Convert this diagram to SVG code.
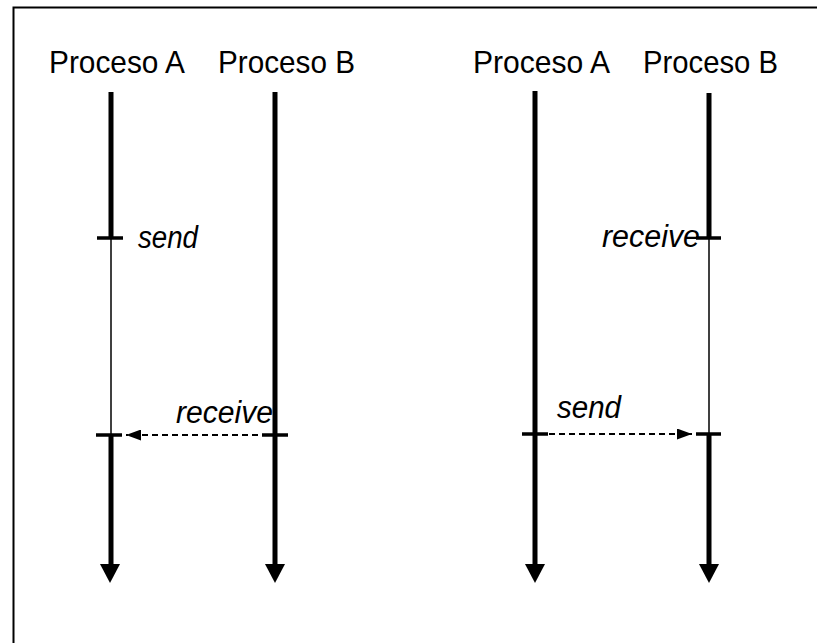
<svg xmlns="http://www.w3.org/2000/svg" width="817" height="643" viewBox="0 0 817 643">
  <style>
    .title { font-family: "Liberation Sans", Arial, sans-serif; font-size: 32px; fill: #000; }
    .lbl { font-family: "Liberation Sans", Arial, sans-serif; font-size: 31px; font-style: italic; fill: #000; }
    .thick { stroke: #000; stroke-width: 5; fill: none; }
    .thin { stroke: #000; stroke-width: 1.5; fill: none; }
    .tick { stroke: #000; stroke-width: 3.5; fill: none; }
    .dash { stroke: #000; stroke-width: 1.8; stroke-dasharray: 6 4; fill: none; }
    .head { fill: #000; }
  </style>
  <defs>
    <marker id="open" markerWidth="16" markerHeight="11" refX="15" refY="5.5" orient="auto" markerUnits="userSpaceOnUse">
      <path d="M0,0 L15,5.5 L0,11 Z" fill="#000"/>
    </marker>
  </defs>
  <rect x="0" y="0" width="817" height="643" fill="#fff"/>
  <rect x="13.5" y="7.5" width="820" height="660" fill="none" stroke="#000" stroke-width="2"/>

  <g id="left-procA">
    <text class="title" x="49" y="73" textLength="136" lengthAdjust="spacingAndGlyphs">Proceso A</text>
    <line class="thick" x1="111" y1="92" x2="111" y2="238"/>
    <line class="thin" x1="111" y1="238" x2="111" y2="435"/>
    <line class="thick" x1="111" y1="435" x2="111" y2="566"/>
    <line class="tick" x1="97" y1="238" x2="123" y2="238"/>
    <line class="tick" x1="96" y1="435" x2="122" y2="435"/>
    <path class="head" d="M100,564 L120,564 L110,583 Z"/>
    <text class="lbl" x="138" y="248" textLength="60" lengthAdjust="spacingAndGlyphs">send</text>
  </g>

  <g id="left-procB">
    <text class="title" x="218" y="73" textLength="137" lengthAdjust="spacingAndGlyphs">Proceso B</text>
    <line class="thick" x1="275" y1="92" x2="275" y2="566"/>
    <line class="tick" x1="262" y1="435" x2="288" y2="435"/>
    <path class="head" d="M265,564 L285,564 L275,583 Z"/>
    <text class="lbl" x="176" y="423" textLength="97" lengthAdjust="spacingAndGlyphs">receive</text>
  </g>

  <g id="right-procA">
    <text class="title" x="473" y="73" textLength="137" lengthAdjust="spacingAndGlyphs">Proceso A</text>
    <line class="thick" x1="535" y1="91" x2="535" y2="566"/>
    <line class="tick" x1="522" y1="434" x2="548" y2="434"/>
    <path class="head" d="M525,564 L545,564 L535,583 Z"/>
    <text class="lbl" x="557" y="418" textLength="64" lengthAdjust="spacingAndGlyphs">send</text>
  </g>

  <g id="right-procB">
    <text class="title" x="643" y="73" textLength="135" lengthAdjust="spacingAndGlyphs">Proceso B</text>
    <line class="thick" x1="709" y1="93" x2="709" y2="238"/>
    <line class="thin" x1="709" y1="238" x2="709" y2="434"/>
    <line class="thick" x1="709" y1="434" x2="709" y2="566"/>
    <line class="tick" x1="696" y1="238" x2="721" y2="238"/>
    <line class="tick" x1="696" y1="434" x2="721" y2="434"/>
    <path class="head" d="M699,564 L719,564 L709,583 Z"/>
    <text class="lbl" x="602" y="247" textLength="98" lengthAdjust="spacingAndGlyphs">receive</text>
  </g>

  <g id="connectors">
    <line class="dash" x1="268" y1="435" x2="126" y2="435" marker-end="url(#open)"/>
    <line class="dash" x1="549" y1="434" x2="692" y2="434" marker-end="url(#open)"/>
  </g>
</svg>
